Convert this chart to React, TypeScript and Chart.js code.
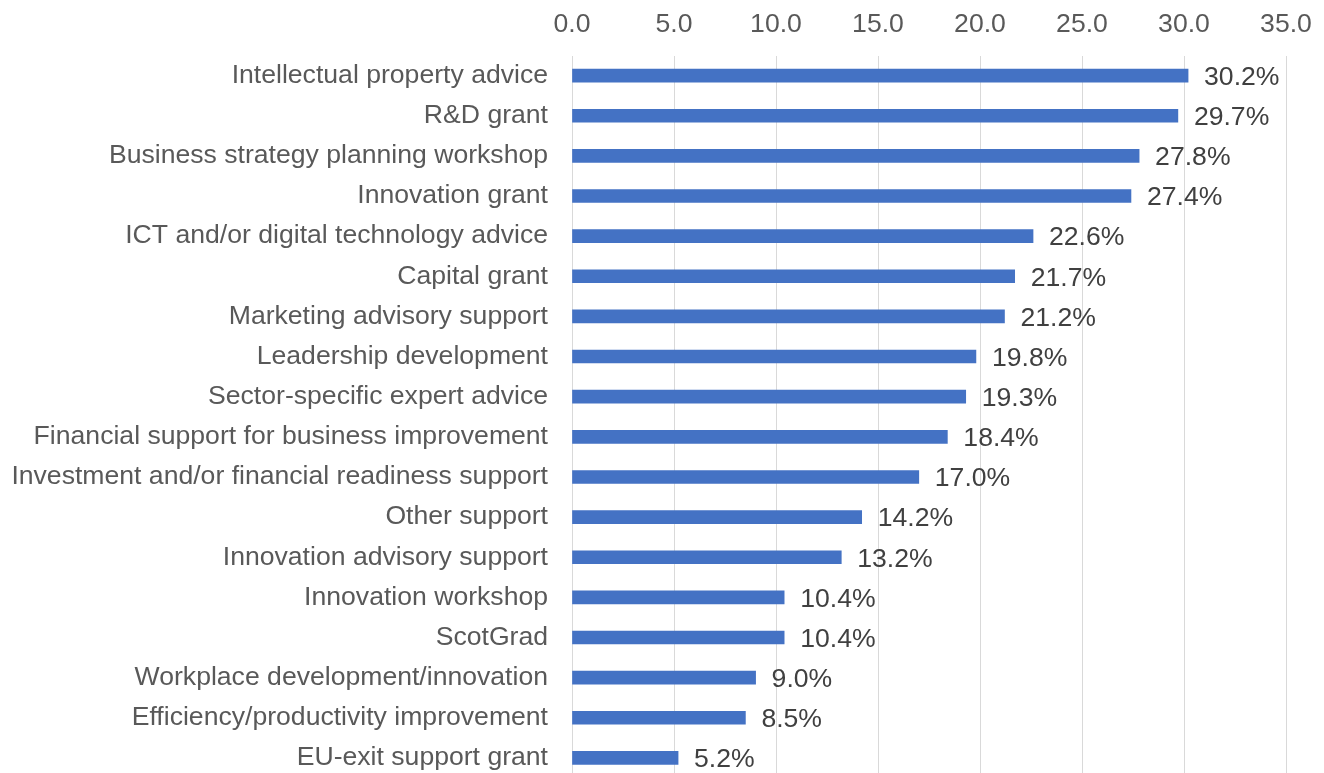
import React, { useEffect, useRef } from "react";
import { Chart, registerables } from "chart.js";

Chart.register(...registerables);

const categories = [
  "Intellectual property advice",
  "R&D grant",
  "Business strategy planning workshop",
  "Innovation grant",
  "ICT and/or digital technology advice",
  "Capital grant",
  "Marketing advisory support",
  "Leadership development",
  "Sector-specific expert advice",
  "Financial support for business improvement",
  "Investment and/or financial readiness support",
  "Other support",
  "Innovation advisory support",
  "Innovation workshop",
  "ScotGrad",
  "Workplace development/innovation",
  "Efficiency/productivity improvement",
  "EU-exit support grant",
];

const values = [30.2, 29.7, 27.8, 27.4, 22.6, 21.7, 21.2, 19.8, 19.3, 18.4, 17.0, 14.2, 13.2, 10.4, 10.4, 9.0, 8.5, 5.2];

const FONT = "'Liberation Sans', Arial, sans-serif";
const FS = 26.6;

const dataLabelPlugin = {
  id: "dataLabels",
  afterDatasetsDraw(chart: any) {
    const ctx = chart.ctx;
    const meta = chart.getDatasetMeta(0);
    ctx.save();
    ctx.font = `${FS}px ${FONT}`;
    ctx.fillStyle = "#404040";
    ctx.textAlign = "left";
    ctx.textBaseline = "middle";
    meta.data.forEach((bar: any, i: number) => {
      const v = values[i];
      ctx.fillText(v.toFixed(1) + "%", bar.x + 16, bar.y + 2);
    });
    ctx.restore();
  },
};

export default function App() {
  const ref = useRef<HTMLCanvasElement | null>(null);
  useEffect(() => {
    if (!ref.current) return;
    const chart = new Chart(ref.current, {
      type: "bar",
      data: {
        labels: categories,
        datasets: [
          {
            data: values,
            backgroundColor: "#4472C4",
            borderWidth: 0,
            barThickness: 13,
          },
        ],
      },
      plugins: [dataLabelPlugin],
      options: {
        indexAxis: "y",
        animation: false,
        responsive: false,
        maintainAspectRatio: false,
        layout: { padding: { left: 0, top: 0, bottom: 0, right: 38 } },
        plugins: {
          legend: { display: false },
          tooltip: { enabled: false },
        },
        scales: {
          x: {
            position: "top",
            min: 0,
            max: 35,
            ticks: {
              stepSize: 5,
              padding: 15,
              color: "#595959",
              font: { family: FONT, size: FS },
              callback: (v: any) => Number(v).toFixed(1),
            },
            grid: { color: "#d9d9d9", lineWidth: 1, drawTicks: false },
            border: { display: false },
            afterFit: (s: any) => {
              s.height = 55.5;
              s.paddingLeft = 0;
              s.paddingRight = 0;
            },
          },
          y: {
            ticks: {
              padding: 24,
              color: "#595959",
              font: { family: FONT, size: FS },
              autoSkip: false,
            },
            grid: { display: false, drawTicks: false },
            border: { display: false },
            afterFit: (s: any) => {
              s.width = 572;
              s.paddingTop = 0;
              s.paddingBottom = 0;
            },
          },
        },
      },
    });
    return () => chart.destroy();
  }, []);
  return (
    <div style={{ position: "absolute", left: 0, top: 0, width: 1324, height: 778 }}>
      <canvas ref={ref} width={1324} height={778} style={{ display: "block" }} />
    </div>
  );
}
